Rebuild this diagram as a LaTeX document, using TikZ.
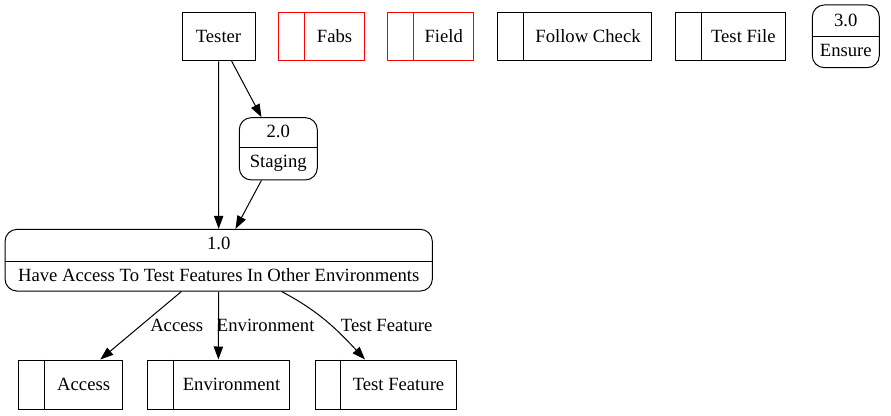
\documentclass[tikz,border=0pt]{standalone}
\usepackage{fontspec}
\setmainfont{Liberation Serif}
\usetikzlibrary{arrows.meta}
\begin{document}
\begin{tikzpicture}[x=1pt,y=-1pt, font=\fontsize{18.67}{21}\selectfont,
  line width=1pt,
  box/.style={draw, rectangle, inner sep=0pt, minimum height=48.5pt, text height=11pt, text depth=0pt},
  redbox/.style={box, draw=red},
  proc/.style={draw, rectangle, rounded corners=12pt, inner sep=0pt},
  txt/.style={inner sep=0pt, anchor=base},
  flow/.style={-{Triangle[length=13pt,width=9.3pt]}},
]
\useasboundingbox (0,0) rectangle (891,415);

% top row
\node[box, minimum width=73pt] (tester) at (218.5,36.5) {Tester};
\node[redbox, minimum width=85.7pt] (fabs) at (321.2,36.5) {\hspace*{26.7pt}Fabs};
\draw[red] ([xshift=26.7pt]fabs.north west) -- ([xshift=26.7pt]fabs.south west);
\node[redbox, minimum width=85.6pt] (field) at (430.5,36.5) {\hspace*{26.6pt}Field};
\draw[red] ([xshift=26.6pt]field.north west) -- ([xshift=26.6pt]field.south west);
\node[box, minimum width=154.4pt] (follow) at (574.5,36.5) {\hspace*{27pt}Follow Check};
\draw ([xshift=27pt]follow.north west) -- ([xshift=27pt]follow.south west);
\node[box, minimum width=110pt] (tfile) at (730,36.5) {\hspace*{26.7pt}Test File};
\draw ([xshift=26.7pt]tfile.north west) -- ([xshift=26.7pt]tfile.south west);

% process 3.0
\node[proc, minimum width=67pt, minimum height=62.7pt] (p3) at (845.8,36.3) {};
\draw (p3.west |- 0,36) -- (p3.east |- 0,36);
\node[txt] (p3a) at (845.8,26) {3.0};
\node[txt] (p3b) at (845.8,56.7) {Ensure};

% process 2.0
\node[proc, minimum width=78pt, minimum height=62.3pt] (p2) at (278.3,148.8) {};
\draw (p2.west |- 0,147.7) -- (p2.east |- 0,147.7);
\node[txt] (p2a) at (278.3,137.7) {2.0};
\node[txt] (p2b) at (278.3,167.3) {Staging};

% process 1.0
\node[proc, minimum width=427.3pt, minimum height=61.7pt] (p1) at (218.7,260.2) {};
\draw (p1.west |- 0,261) -- (p1.east |- 0,261);
\node[txt] (p1a) at (218.7,249.3) {1.0};
\node[txt] (p1b) at (218.7,281) {Have Access To Test Features In Other Environments};

% bottom stores
\node[box, minimum width=103.6pt, minimum height=49pt] (access) at (70.5,384.5) {\hspace*{26.3pt}Access};
\draw ([xshift=26.3pt]access.north west) -- ([xshift=26.3pt]access.south west);
\node[box, minimum width=142pt, minimum height=49pt] (env) at (218.3,384.5) {\hspace*{26.4pt}Environment};
\draw ([xshift=26.4pt]env.north west) -- ([xshift=26.4pt]env.south west);
\node[box, minimum width=141pt, minimum height=49pt] (tf) at (385.5,384.5) {\hspace*{26pt}Test Feature};
\draw ([xshift=26pt]tf.north west) -- ([xshift=26pt]tf.south west);

% connectors
\draw[flow] (tester) -- (p1);
\draw[flow] (tester) -- (p2);
\draw[flow] (p2) -- (p1);
\draw[flow] (p1) -- (access);
\draw[flow] (p1) -- (env);
\draw[flow] ([xshift=63pt]p1.south) to[out=-28,in=133] ([xshift=-20.5pt]tf.north);

% edge labels
\node[txt] (lacc) at (176.7,331) {Access};
\node[txt] (lenv) at (265.7,331) {Environment};
\node[txt] (ltf) at (386.7,331) {Test Feature};
\end{tikzpicture}
\end{document}
